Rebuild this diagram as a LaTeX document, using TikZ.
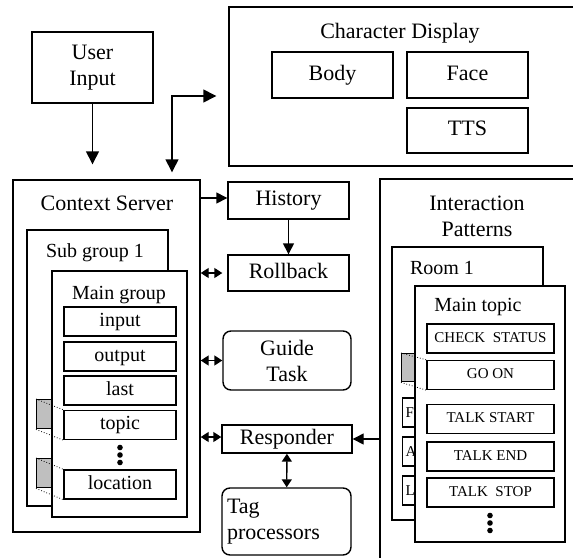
\documentclass[tikz,border=0pt]{standalone}
\usepackage{fontspec}
\setmainfont{Liberation Serif}
\usetikzlibrary{arrows.meta}

\begin{document}
\begin{tikzpicture}[x=1pt,y=-1pt,line width=1.4pt,
  big/.style={font=\fontsize{22}{26}\selectfont,align=center},
  mid/.style={font=\fontsize{20}{24}\selectfont},
  small/.style={font=\fontsize{15}{18}\selectfont},
  one/.style={text height=15.5,text depth=4.8},
  unit/.style={draw,fill=white,inner sep=0pt},
  blk/.style 2 args={unit,minimum width=#1,minimum height=#2},
  field/.style={blk={112}{29},mid,text height=14,text depth=4.4},
  cmd/.style={blk={127}{29},small,text height=10.5,text depth=3.3},
  shade/.style={unit,fill=black!25,anchor=north west,minimum width=22,minimum height=29},
  side/.style={unit,small,anchor=west,minimum height=29,text width=26,inner xsep=3pt,align=left},
  zoomline/.style={line width=0.8pt,dotted},
  arr/.style={->,>={Triangle[length=13pt,width=13pt]}},
  arrs/.style={->,>={Triangle[length=11pt,width=11pt]}},
  darr/.style={<->,>={Triangle[length=8pt,width=10pt]}}]
\clip (0,0) rectangle (573,557);

\node[blk={121}{71},big] (user) at (92.5,67.5) {User\\Input};

\node[blk={351}{159}] (chardisp) at (404.5,86.5) {};
\node[big] (cdtitle) at (400,33) {Character Display};
\node[blk={121}{46},big,one] (body) at (332.5,75) {Body};
\node[blk={121}{46},big,one] (face) at (467.5,75) {Face};
\node[blk={121}{45},big,one] (tts) at (467.5,130.5) {TTS};

\node[blk={187}{352}] (ctx) at (106.5,356) {};
\node[big] (ctxtitle) at (107,203) {Context Server};
\node[blk={141}{276}] (sub) at (97.5,368) {};
\node[mid] (subtitle) at (95,253) {Sub group 1};
\node[shade] (zoomA) at (36,399) {};
\node[shade] (zoomB) at (36,458) {};
\node[blk={135}{246}] (maing) at (119.5,394) {};
\node[mid] (maintitle) at (119,295) {Main group};
\node[field] (input) at (120,321.5) {input};
\node[field] (output) at (120,356.5) {output};
\node[field] (last) at (120,390.5) {last};
\node[field] (topic) at (120,425) {topic};
\node[field] (location) at (120,484.5) {location};
\foreach \d in {-7.5,0,7.5} \fill (120,455+\d) circle (2.8);
\draw[zoomline] (zoomA.north west) -- (topic.north west);
\draw[zoomline] (zoomA.south west) -- (topic.south west);
\draw[zoomline] (zoomB.north west) -- (location.north west);
\draw[zoomline] (zoomB.south west) -- (location.south west);

\node[blk={121}{37},big,one] (hist) at (288.5,200.5) {History};
\node[blk={121}{36},big,one] (roll) at (288.5,273) {Rollback};
\node[blk={128}{59},big,rounded corners=8pt] (guide) at (287,360.5) {Guide\\Task};
\node[blk={130}{28},big,one] (resp) at (287,439) {Responder};
\node[blk={129}{67},big,rounded corners=8pt,align=left,text width=119,inner xsep=5pt] (tag) at (286.5,521.5) {Tag\\processors};

\node[blk={210}{422}] (ipat) at (485,390) {};
\node[big] (iptitle) at (477,216) {Interaction\\Patterns};
\node[blk={151}{273}] (room) at (467.5,383.5) {};
\node[mid] (roomtitle) at (442,268) {Room 1};
\node[shade,minimum width=19,minimum height=28] (zoomC) at (401,353) {};
\node[side] (rf) at (402,412.5) {F};
\node[side] (ra) at (402,451.5) {A};
\node[side] (rl) at (402,490.5) {L};
\node[blk={150}{256}] (maint) at (490,414) {};
\node[mid] (mttitle) at (478,307) {Main topic};
\node[cmd] (check) at (490.5,338.5) {CHECK~~STATUS};
\node[cmd] (goon) at (490.5,375) {GO ON};
\node[cmd] (tstart) at (490.5,419) {TALK START};
\node[cmd] (tend) at (490.5,456.5) {TALK END};
\node[cmd] (tstop) at (490.5,492.5) {TALK~~STOP};
\foreach \d in {-7.5,0,7.5} \fill (490,523+\d) circle (2.8);
\draw[zoomline] (zoomC.north west) -- (goon.north west);
\draw[zoomline] (zoomC.south west) -- (goon.south west);

\coordinate (split) at (172,96);
\draw[arr,shorten >=15pt] (user.south) -- (user.south |- ctx.north);
\draw[arr,<->,shorten <=7pt,shorten >=12pt] (split |- ctx.north) |- (chardisp.west |- split);
\draw[arrs] (ctx.east |- 0,198) -- (hist.west |- 0,198);
\draw[arrs] (hist) -- (roll);
\draw[darr,shorten >=5pt] (ctx.east |- roll) -- (roll.west);
\draw[darr] (ctx.east |- guide) -- (guide.west);
\draw[darr] (ctx.east |- 0,437) -- (resp.west |- 0,437);
\draw[arrs] (ipat.west |- resp) -- (resp.east);
\draw[darr] (resp) -- (tag);
\end{tikzpicture}
\end{document}
